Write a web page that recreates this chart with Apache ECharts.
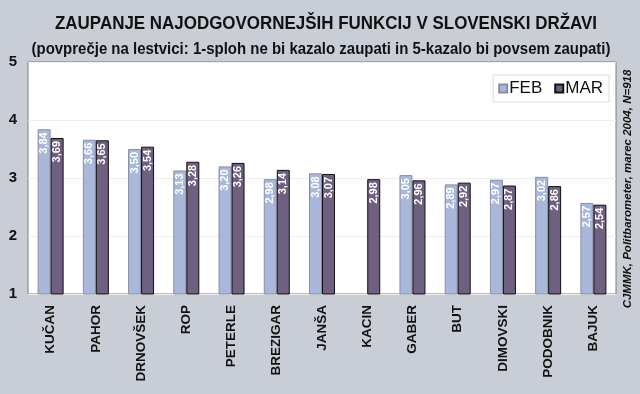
<!DOCTYPE html>
<html><head><meta charset="utf-8">
<script src="https://cdn.jsdelivr.net/npm/echarts@6/dist/echarts.min.js"></script>
<style>html,body{margin:0;padding:0;background:#c9cdd5;}#c{width:640px;height:394px;}</style>
</head><body><div id="c"></div>
<script>
const categories = ['KUČAN','PAHOR','DRNOVŠEK','ROP','PETERLE','BREZIGAR','JANŠA','KACIN','GABER','BUT','DIMOVSKI','PODOBNIK','BAJUK'];
const feb = [3.84, 3.66, 3.50, 3.13, 3.20, 2.98, 3.08, null, 3.05, 2.89, 2.97, 3.02, 2.57];
const mar = [3.69, 3.65, 3.54, 3.28, 3.26, 3.14, 3.07, 2.98, 2.96, 2.92, 2.87, 2.86, 2.54];
const yTicks = [1, 2, 3, 4, 5];
const titleText = 'ZAUPANJE NAJODGOVORNEJŠIH FUNKCIJ V SLOVENSKI DRŽAVI';
const subtitleText = '(povprečje na lestvici: 1-sploh ne bi kazalo zaupati in 5-kazalo bi povsem zaupati)';
const sourceText = 'CJMMK, Politbarometer, marec 2004, N=918';

const FONT = '"Liberation Sans", Arial, sans-serif';
function fitScale(text, font, target) {
  const ctx = document.createElement('canvas').getContext('2d');
  ctx.font = font;
  return target / ctx.measureText(text).width;
}
const titleFont = 'bold 19px ' + FONT;
const subFont = 'bold 17px ' + FONT;
const chart = echarts.init(document.getElementById('c'));
const barLabel = {
  show: true, position: 'insideTop', rotate: 90, align: 'right', verticalAlign: 'middle',
  distance: 3, color: '#ffffff', fontFamily: FONT, fontWeight: 'bold', fontSize: 11,
  formatter: p => p.value == null ? '' : p.value.toFixed(2).replace('.', ',')
};
chart.setOption({
  backgroundColor: '#c9cdd5',
  animation: false,
  legend: {
    data: ['FEB', 'MAR'], right: 31, top: 75, itemWidth: 8, itemHeight: 8, itemGap: 12,
    padding: [5, 6, 5, 5], backgroundColor: '#ffffff', borderColor: '#dddddd', borderWidth: 1,
    icon: 'rect',
    textStyle: {fontFamily: FONT, fontSize: 17, color: '#111', padding: [0, 0, 0, -3]}
  },
  grid: {left: 28, right: 24, top: 62, bottom: 100, show: true, backgroundColor: '#ffffff', borderColor: '#7a7d85', borderWidth: 1},
  xAxis: {
    type: 'category', data: categories,
    axisLine: {show: false}, axisTick: {show: false},
    axisLabel: {rotate: 90, margin: 11, fontFamily: FONT, fontWeight: 'bold', fontSize: 13.5, color: '#111'}
  },
  yAxis: {
    type: 'value', min: 1, max: 5, interval: 1,
    axisLine: {show: false}, axisTick: {show: false},
    axisLabel: {margin: 11, fontFamily: FONT, fontWeight: 'bold', fontSize: 15, color: '#111',
      formatter: v => yTicks.includes(v) ? String(v) : ''},
    splitLine: {lineStyle: {color: '#eeeeee', width: 1}}
  },
  series: [
    {name: 'FEB', type: 'bar', data: feb, barWidth: 13, barGap: '0%',
     itemStyle: {color: '#a9b7da', borderColor: '#8a8fa0', borderWidth: 1}, label: barLabel},
    {name: 'MAR', type: 'bar', data: mar, barWidth: 13,
     itemStyle: {color: '#6f5f80', borderColor: '#111111', borderWidth: 1}, label: barLabel}
  ],
  graphic: [
    {type: 'text', x: 326, y: 24, scaleX: fitScale(titleText, titleFont, 542),
     style: {text: titleText, fill: '#111', font: titleFont, align: 'center', verticalAlign: 'middle'}},
    {type: 'text', x: 321, y: 49, scaleX: fitScale(subtitleText, subFont, 579),
     style: {text: subtitleText, fill: '#111', font: subFont, align: 'center', verticalAlign: 'middle'}},
    {type: 'text', x: 628, y: 189, rotation: Math.PI / 2,
     style: {text: sourceText, fill: '#111', font: 'italic bold 11.5px ' + FONT,
       align: 'center', verticalAlign: 'middle'}}
  ]
});
</script></body></html>
